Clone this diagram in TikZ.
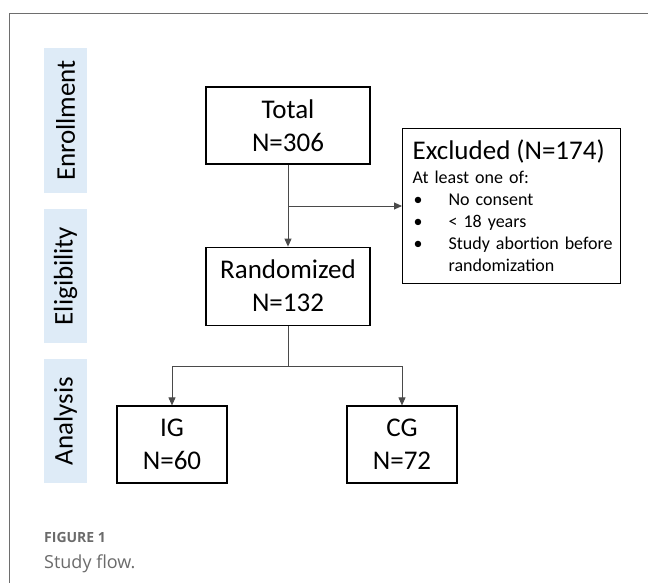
\documentclass[tikz,border=0pt]{standalone}
\usepackage{fontspec}
\setmainfont{Carlito}
\newfontfamily\capfont{Open Sans}
\usetikzlibrary{arrows.meta,positioning}
\definecolor{cPhase}{HTML}{DEEBF7}
\definecolor{cLine}{HTML}{4A4A4A}
\definecolor{cFrame}{HTML}{6E6E6E}
\definecolor{cCap}{HTML}{6B6B6B}
\newcommand{\exitem}{\makebox[36pt][l]{\hspace{1pt}\textbullet}}
\tikzset{
  box/.style={draw=black, line width=1.2pt, align=center, inner sep=0pt,
              font=\fontsize{27}{33}\selectfont},
  phase/.style={fill=cPhase, rotate=90, minimum height=43pt, inner sep=0pt,
                font=\fontsize{27}{33}\selectfont},
  flow/.style={-{Triangle[length=8pt,width=7pt]}, line width=0.9pt, draw=cLine},
  capt/.style={anchor=west, inner sep=0pt, text=cCap},
}

\begin{document}
\begin{tikzpicture}[x=1pt,y=1pt]
  \useasboundingbox (0,0) rectangle (648,583);
  \draw[cFrame, line width=1.3pt] (9.5,0) -- (9.5,569.5) -- (648,569.5);
  % phases
  \node[phase, minimum width=145pt] (enrol) at (65.5,462.5) {Enrollment};
  \node[phase, minimum width=134pt] (elig) at (65.5,307) {Eligibility};
  \node[phase, minimum width=124pt] (anal) at (65.5,162) {Analysis};
  % boxes
  \node[box, minimum width=164pt, minimum height=77pt] (total) at (288,457.5) {Total\\N=306};
  \node[box, minimum width=164pt, minimum height=78pt, below=82pt of total] (rand) {Randomized\\N=132};
  \node[box, anchor=north west, align=left, text width=198pt, minimum height=155pt,
        inner xsep=10pt, font=\fontsize{18}{22}\selectfont] (excl) at (402,455)
        {{\fontsize{27}{27}\selectfont Excluded (N=174)}\\[2pt]
         At least one of:\\
         \exitem No consent\\
         \exitem{}< 18 years\\
         \exitem\mbox{Study abortion before}\\
         \hspace*{36pt}randomization};
  \node[box, minimum width=110pt, minimum height=77pt] (ig) at (172,138.5) {IG\\N=60};
  \node[box, minimum width=110pt, minimum height=77pt] (cg) at (402,138.5) {CG\\N=72};
  % connectors
  \coordinate (split) at (288,377);
  \draw[flow] (total) -- (rand);
  \draw[flow] (split) -- (split -| excl.west);
  \draw[flow] (rand.south) -- ++(0,-41) -| (ig.north);
  \draw[flow] (rand.south) -- ++(0,-41) -| (cg.north);
  % caption
  \node[capt, font=\capfont\bfseries\fontsize{14}{16}\selectfont] (fig) at (44,45) {FIGURE 1};
  \node[capt, font=\capfont\fontsize{18}{20}\selectfont] (cap) at (44,19) {Study flow.};
\end{tikzpicture}
\end{document}
